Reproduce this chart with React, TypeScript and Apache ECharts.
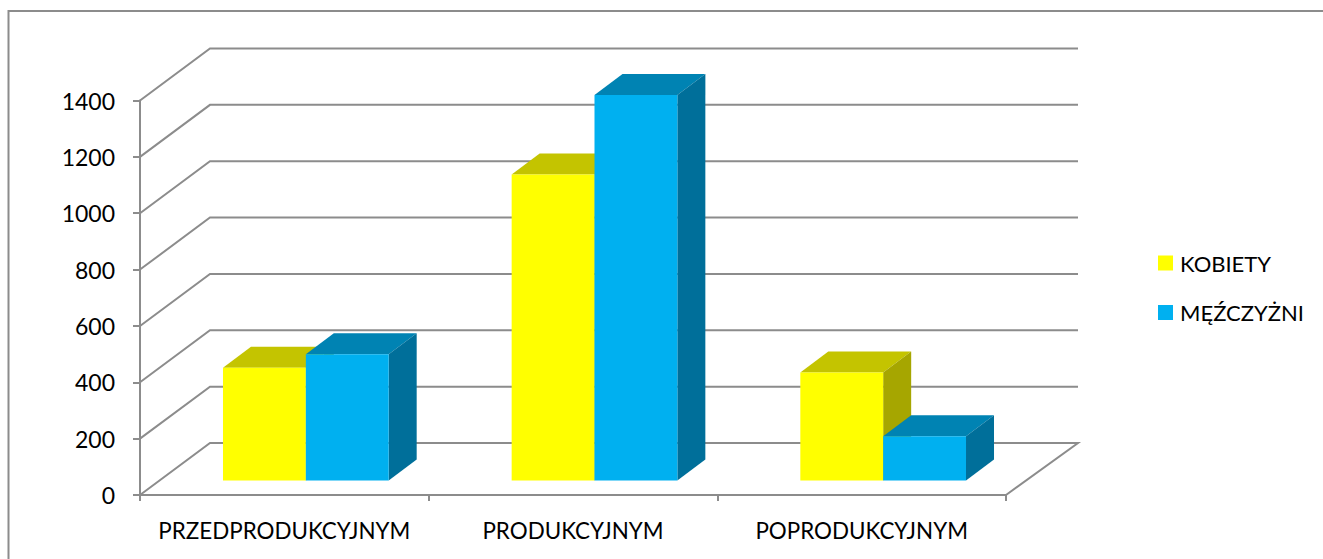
import React, { useEffect, useRef } from "react";
import * as echarts from "echarts";

const categories = ["PRZEDPRODUKCYJNYM", "PRODUKCYJNYM", "POPRODUKCYJNYM"];
const kobiety = [400, 1086, 383];
const mezczyzni = [448, 1368, 157];
const yTicks = [0, 200, 400, 600, 800, 1000, 1200, 1400];

const LINE = "#8c8c8c";
const FONT = "Lato, Carlito, sans-serif";
const WALL_DX = 70;
const WALL_DY = -52;
const BAR_DX = 28;
const BAR_DY = -21;
const BASE_DX = 21.5;
const BASE_DY = -14.5;

function barSeries(name: string, values: number[], side: number, front: string, top: string, right: string) {
  return {
    type: "custom",
    name,
    z: 3,
    silent: true,
    itemStyle: { color: front },
    data: values.map((v, i) => [i, v]),
    renderItem: (_p: any, api: any) => {
      const band = api.size([1, 0])[0];
      const w = band * 0.287;
      const v = api.value(1);
      const t = api.coord([api.value(0), v]);
      const b = api.coord([api.value(0), 0]);
      const x0 = t[0] + BASE_DX + (side < 0 ? -w : 0);
      const x1 = x0 + w;
      const yT = t[1] + BASE_DY;
      const yB = b[1] + BASE_DY;
      const poly = (points: number[][], fill: string) => ({ type: "polygon", shape: { points }, style: { fill } });
      return {
        type: "group",
        children: [
          poly([[x0, yT], [x0 + BAR_DX, yT + BAR_DY], [x1 + BAR_DX, yT + BAR_DY], [x1, yT]], top),
          poly([[x1, yT], [x1 + BAR_DX, yT + BAR_DY], [x1 + BAR_DX, yB + BAR_DY], [x1, yB]], right),
          poly([[x0, yT], [x1, yT], [x1, yB], [x0, yB]], front),
        ],
      };
    },
  };
}

export default function App() {
  const ref = useRef<HTMLDivElement>(null);
  useEffect(() => {
    document.body.style.margin = "0";
    const chart = echarts.init(ref.current!, undefined, { renderer: "svg" });
    chart.setOption({
      animation: false,
      backgroundColor: "#ffffff",
      textStyle: { fontFamily: FONT },
      graphic: [
        {
          type: "rect",
          z: 0,
          shape: { x: 8.5, y: 11, width: 1340, height: 570 },
          style: { fill: "none", stroke: LINE, lineWidth: 2 },
        },
      ],
      legend: {
        orient: "vertical",
        left: 1153,
        top: 247,
        data: ["KOBIETY", "MĘŹCZYŻNI"],
        icon: "rect",
        itemWidth: 15,
        itemHeight: 15,
        itemGap: 27.5,
        selectedMode: false,
        textStyle: { fontFamily: FONT, fontSize: 22, color: "#000000", padding: [0, 0, 0, 2] },
      },
      grid: { left: 140, top: 100.5, width: 866, height: 394.5 },
      xAxis: {
        type: "category",
        data: categories,
        axisLine: { lineStyle: { color: LINE, width: 2 } },
        axisTick: { show: true, length: 6, interval: 0, lineStyle: { color: LINE, width: 2 } },
        axisLabel: { interval: 0, fontFamily: FONT, fontSize: 22.4, color: "#000000", margin: 24 },
      },
      yAxis: {
        type: "value",
        min: 0,
        max: 1400,
        interval: 200,
        axisLine: { show: true, lineStyle: { color: LINE, width: 2 } },
        axisTick: { show: true, length: 7, lineStyle: { color: LINE, width: 2 } },
        splitLine: { show: false },
        axisLabel: {
          fontFamily: FONT,
          fontSize: 23,
          color: "#000000",
          margin: 25,
          padding: [2, 0, 0, 0],
          formatter: (v: number) => String(v),
        },
      },
      series: [
        {
          type: "custom",
          z: 1,
          silent: true,
          data: yTicks.map((v) => [0, v]),
          renderItem: (p: any, api: any) => {
            const cs = p.coordSys;
            const y = api.coord([0, api.value(1)])[1];
            const left = cs.x;
            const right = cs.x + cs.width;
            const points = [
              [left, y],
              [left + WALL_DX, y + WALL_DY],
              [right + WALL_DX + 2, y + WALL_DY],
            ];
            if (api.value(1) === 0) points.push([right, y]);
            return {
              type: "polyline",
              shape: { points },
              style: { stroke: LINE, lineWidth: 2, fill: "none" },
            };
          },
        },
        barSeries("KOBIETY", kobiety, -1, "#FFFF00", "#C4C400", "#A6A600"),
        barSeries("MĘŹCZYŻNI", mezczyzni, 1, "#00B0F0", "#0083B3", "#006F9A"),
      ],
    });
    return () => chart.dispose();
  }, []);
  return <div ref={ref} style={{ width: 1323, height: 559 }} />;
}
